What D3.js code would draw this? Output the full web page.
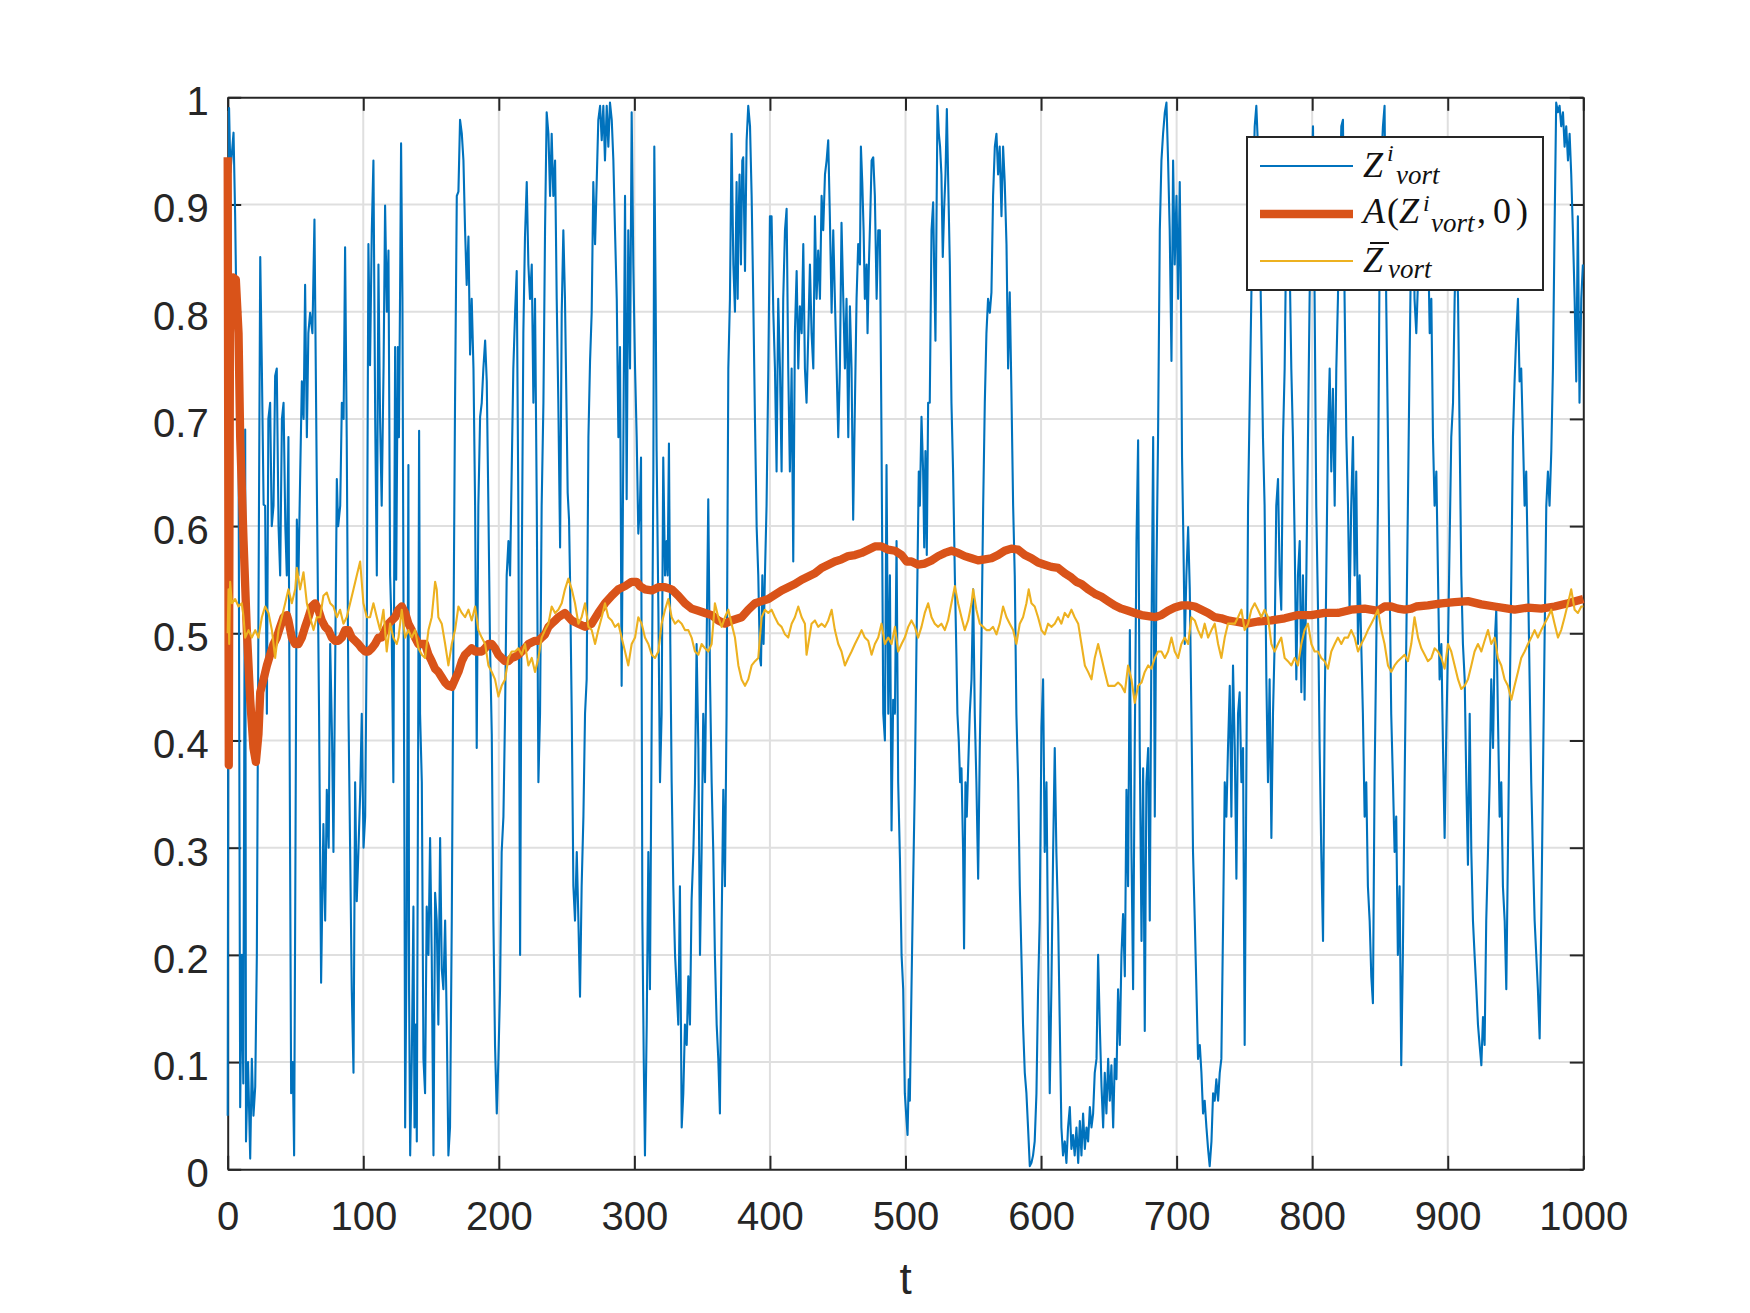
<!DOCTYPE html>
<html>
<head>
<meta charset="utf-8">
<script src="https://cdn.jsdelivr.net/npm/d3@7"></script>
<style>
  body { margin: 0; background: #fff; }
  svg { display: block; background: #fff; }
</style>
</head>
<body>
<svg id="chart" width="1750" height="1313"></svg>
<script>
// ---- data: [t, value] ----
const xTicks = [0, 100, 200, 300, 400, 500, 600, 700, 800, 900, 1000];
const yTicks = [0, 0.1, 0.2, 0.3, 0.4, 0.5, 0.6, 0.7, 0.8, 0.9, 1];
const seriesNames = ["Zvort", "A(Zvort,0)", "Zbar"];

// Z^i_vort (blue, noisy)
const zvort = [
  [0,0.05],[1,0.99],[2,0.93],[4.3,0.967],[5.5,0.889],[7,0.75],[8,0.689],[9.2,0.058],[10.5,0.2],[11.5,0.08],
  [12.9,0.69],[13.5,0.026],[15,0.1],[16.6,0.01],[17.8,0.103],[19,0.05],[20.3,0.077],[21.5,0.2],[23,0.6],[24,0.851],
  [25.2,0.747],[26.5,0.62],[27.6,0.619],[28.9,0.425],[30,0.7],[31.3,0.715],[32.5,0.6],[33.8,0.619],[35,0.74],[36.2,0.747],
  [37.5,0.6],[38.7,0.554],[40,0.7],[41.2,0.715],[42.5,0.6],[43.6,0.554],[44.8,0.683],[46,0.3],[46.8,0.071],[48,0.1],
  [49,0.013],[50,0.3],[51,0.606],[52.2,0.554],[53.5,0.65],[54.7,0.735],[56,0.7],[57.1,0.825],[58.4,0.683],[59.5,0.78],
  [60.8,0.799],[62.5,0.78],[64,0.886],[65.7,0.644],[67.4,0.425],[68.9,0.174],[70.6,0.322],[71.9,0.232],[73.1,0.354],[74.5,0.3],
  [75.6,0.49],[77,0.4],[78,0.296],[79.5,0.5],[80.5,0.644],[81.5,0.6],[83,0.619],[84.2,0.715],[85.5,0.7],[86.6,0.86],
  [87.8,0.683],[89.1,0.425],[90.3,0.3],[91.5,0.168],[92.8,0.09],[94,0.361],[95.2,0.25],[96.4,0.296],[97.7,0.35],[98.9,0.425],
  [100.2,0.3],[101.4,0.329],[102.6,0.5],[103.8,0.863],[105,0.75],[106.3,0.876],[107.5,0.941],[108.8,0.7],[110,0.554],[111.2,0.844],
  [112.4,0.7],[113.6,0.619],[115,0.75],[116.1,0.899],[117.4,0.8],[118.6,0.857],[119.8,0.554],[121,0.5],[122.2,0.361],[123.5,0.767],
  [124.3,0.55],[125.5,0.767],[126.3,0.683],[127.2,0.825],[127.9,0.957],[128.9,0.812],[129.6,0.554],[130.4,0.296],[130.9,0.039],[132.1,0.232],
  [133.3,0.657],[133.8,0.168],[134.6,0.013],[135.8,0.103],[137,0.245],[137.8,0.039],[138.7,0.135],[139.5,0.026],[140.5,0.4],[141.2,0.689],
  [141.9,0.425],[143.2,0.361],[144.4,0.103],[145.6,0.071],[146.8,0.245],[148.1,0.2],[149.3,0.309],[150.5,0.2],[151.8,0.013],[153,0.258],
  [154.2,0.232],[155.4,0.135],[156.7,0.309],[157.9,0.187],[159.1,0.168],[160.4,0.232],[161.6,0.135],[162.8,0.013],[164,0.039],[165.3,0.232],
  [166.5,0.49],[167.7,0.715],[169,0.908],[170.2,0.912],[171.4,0.979],[172.7,0.966],[173.9,0.941],[175.1,0.876],[176.3,0.825],[177.6,0.87],
  [178.8,0.76],[180,0.812],[181.3,0.747],[182.5,0.619],[183.7,0.393],[184.9,0.619],[186.2,0.702],[187.4,0.715],[188.6,0.747],[189.9,0.773],
  [191.1,0.735],[192.3,0.619],[193.5,0.49],[194.8,0.406],[196,0.232],[197.2,0.116],[198.5,0.052],[199.7,0.103],[200.9,0.168],[202.1,0.296],
  [203.4,0.329],[204.6,0.425],[205.8,0.554],[207.1,0.586],[208.3,0.554],[209.5,0.651],[210.7,0.747],[212,0.799],[213.2,0.838],[214.4,0.619],
  [215.7,0.2],[216.9,0.554],[218.1,0.78],[219.3,0.87],[220.6,0.921],[221.8,0.844],[223,0.812],[224.3,0.844],[225.5,0.715],[226.7,0.812],
  [228,0.619],[229.2,0.361],[230.4,0.425],[231.6,0.619],[232.9,0.715],[234.1,0.876],[235.3,0.986],[236.6,0.966],[237.8,0.908],[239,0.966],
  [240.2,0.908],[241.5,0.941],[242.7,0.812],[243.9,0.715],[245.2,0.58],[246.4,0.799],[247.6,0.876],[248.8,0.812],[250.1,0.696],[250.8,0.631],
  [251.8,0.606],[252.5,0.554],[253.8,0.425],[255,0.264],[256.2,0.232],[257.5,0.296],[258.7,0.232],[259.9,0.161],[261.1,0.264],[262.4,0.329],
  [263.6,0.425],[264.8,0.457],[266.1,0.683],[267.3,0.754],[268.5,0.799],[269.7,0.921],[271,0.863],[272.2,0.921],[273.4,0.979],[274.7,0.992],
  [275.9,0.96],[277.1,0.992],[278.3,0.941],[279.6,0.992],[280.8,0.954],[282,0.995],[283.3,0.979],[284.5,0.941],[285.7,0.876],[287,0.812],
  [288.2,0.683],[289.4,0.767],[290.6,0.451],[291.9,0.683],[293.1,0.908],[294.3,0.625],[295.5,0.876],[296.8,0.747],[298,0.986],[299.2,0.844],
  [300.5,0.747],[301.7,0.683],[302.9,0.593],[304.1,0.619],[304.9,0.664],[305.9,0.232],[306.9,0.103],[307.8,0.013],[309.1,0.135],[310.3,0.296],
  [311.5,0.168],[312.8,0.425],[314,0.651],[314.7,0.954],[315.7,0.812],[316.4,0.67],[317.7,0.522],[318.9,0.361],[320.1,0.425],[321.3,0.664],
  [322.6,0.554],[323.8,0.586],[324.5,0.554],[325.5,0.677],[326.5,0.49],[327.5,0.361],[328.7,0.264],[330,0.2],[331.2,0.168],[332.4,0.135],
  [333.6,0.264],[334.9,0.039],[336.1,0.071],[337.3,0.135],[338.6,0.116],[339.8,0.18],[341,0.135],[342.2,0.251],[343.5,0.296],[344.7,0.361],
  [345.9,0.49],[347.2,0.393],[348.4,0.2],[349.6,0.296],[350.8,0.425],[352.1,0.361],[353.3,0.49],[354.5,0.625],[355.8,0.457],[357,0.361],
  [358.2,0.296],[359.4,0.2],[360.7,0.135],[361.9,0.103],[363.1,0.052],[364.4,0.232],[365.6,0.354],[366.8,0.264],[368,0.425],[369.3,0.747],
  [370.5,0.812],[371.7,0.966],[373,0.844],[374.2,0.8],[375.4,0.921],[376.2,0.812],[376.7,0.876],[377.6,0.928],[378.6,0.844],[379.6,0.941],
  [380.3,0.944],[381.6,0.838],[382.8,0.96],[384,0.992],[385.3,0.973],[386.5,0.908],[387.7,0.812],[389,0.696],[390.2,0.599],[391.4,0.554],
  [392.6,0.477],[393.4,0.47],[394.4,0.554],[395.3,0.49],[396.3,0.554],[397.5,0.619],[398.8,0.747],[400,0.889],[401.2,0.889],[402.5,0.799],
  [403.7,0.747],[404.9,0.651],[406.1,0.812],[407.4,0.747],[408.6,0.651],[409.8,0.812],[411.1,0.876],[412.3,0.896],[413.5,0.747],[414.7,0.651],
  [416,0.747],[417.2,0.567],[418.4,0.78],[419.7,0.838],[420.9,0.747],[422.1,0.805],[423.4,0.78],[424.6,0.863],[425.8,0.747],[427,0.715],
  [428.3,0.78],[429.5,0.844],[430.7,0.78],[432,0.747],[433.2,0.889],[434.4,0.812],[435.6,0.857],[436.9,0.812],[438.1,0.908],[439.3,0.876],
  [440.6,0.928],[441.8,0.941],[443,0.96],[444.2,0.889],[445.5,0.799],[446.7,0.876],[447.9,0.812],[449.2,0.747],[450.4,0.683],[451.6,0.747],
  [452.8,0.883],[454.1,0.812],[455.3,0.747],[456.5,0.812],[457.8,0.683],[459,0.805],[460.2,0.747],[461.4,0.606],[462.7,0.715],[463.9,0.812],
  [465.1,0.863],[466.4,0.844],[467.1,0.954],[468.1,0.921],[469.1,0.876],[470,0.812],[471.3,0.844],[472,0.78],[473,0.844],[474,0.889],
  [475,0.941],[476.2,0.944],[477.4,0.908],[478.7,0.812],[479.9,0.876],[481.1,0.876],[482.3,0.683],[483.6,0.425],[484.8,0.4],[486,0.657],
  [487.3,0.425],[488.5,0.554],[489.7,0.316],[490.9,0.438],[492.2,0.425],[493.4,0.586],[494.6,0.361],[495.9,0.29],[497.1,0.2],[498.3,0.168],
  [499.5,0.071],[500.8,0.045],[501.5,0.032],[502.4,0.084],[503.2,0.064],[504.4,0.168],[505.6,0.264],[506.9,0.361],[508.1,0.49],[508.8,0.554],
  [509.8,0.651],[510.6,0.619],[511.8,0.702],[513,0.651],[513.8,0.58],[514.7,0.67],[515.7,0.573],[516.7,0.715],[517.9,0.715],[519.2,0.876],
  [520.4,0.902],[521.1,0.844],[522.1,0.773],[522.8,0.876],[523.6,0.992],[524.6,0.966],[525.5,0.954],[526.5,0.928],[527.5,0.851],[528.5,0.896],
  [529.5,0.928],[530.5,0.989],[531.4,0.928],[532.7,0.844],[533.9,0.715],[535.1,0.651],[536.4,0.554],[537.6,0.477],[538.3,0.425],[539.3,0.4],
  [540.3,0.361],[541.3,0.374],[542.5,0.296],[543.2,0.206],[544.2,0.361],[545.2,0.329],[546.2,0.374],[547.4,0.425],[548.7,0.457],[549.9,0.541],
  [551.1,0.425],[552.3,0.361],[553.6,0.271],[554.8,0.393],[556,0.49],[557.3,0.619],[558.5,0.715],[559.7,0.78],[560.9,0.812],[562.2,0.799],
  [563.4,0.818],[564.6,0.908],[565.9,0.954],[567.1,0.966],[568.3,0.928],[569.5,0.954],[570.8,0.889],[572,0.954],[573.2,0.921],[574.5,0.863],
  [575.7,0.747],[576.9,0.818],[578.1,0.728],[579.4,0.619],[580.6,0.554],[581.8,0.425],[583.1,0.361],[584.3,0.264],[585.5,0.2],[586.7,0.135],
  [588,0.09],[589.2,0.071],[590.4,0.039],[591.7,0.003],[592.9,0.006],[594.1,0.013],[595.3,0.026],[596.6,0.071],[597.8,0.168],[599,0.232],
  [600.3,0.412],[601.5,0.457],[602.7,0.296],[604,0.361],[605.2,0.2],[606.4,0.071],[607.6,0.168],[608.9,0.296],[610.1,0.393],[611.3,0.296],
  [612.6,0.232],[613.8,0.135],[615,0.039],[616.2,0.013],[617.5,0.026],[618.7,0.006],[619.9,0.039],[621.2,0.058],[622.4,0.019],[623.6,0.032],
  [624.8,0.013],[626.1,0.039],[627.4,0.006],[628.6,0.045],[629.8,0.013],[631,0.052],[632.3,0.019],[633.5,0.039],[634.7,0.026],[636,0.058],
  [637.2,0.039],[638.4,0.052],[639.6,0.09],[640.9,0.103],[642.1,0.2],[643.3,0.135],[644.6,0.077],[645.8,0.039],[647,0.09],[648.2,0.052],
  [649.5,0.103],[650.7,0.064],[651.9,0.097],[653.2,0.039],[654.4,0.103],[655.6,0.084],[656.8,0.168],[658.1,0.116],[659.3,0.2],[660.5,0.238],
  [661.8,0.18],[663,0.354],[664.2,0.264],[665.5,0.503],[666.7,0.296],[667.9,0.168],[669.1,0.393],[670.4,0.586],[671.6,0.68],[672.8,0.393],
  [674.1,0.213],[675.3,0.374],[676.5,0.129],[677.7,0.361],[679,0.393],[680.2,0.232],[681.4,0.49],[682.7,0.683],[683.9,0.329],[685.1,0.554],
  [686.3,0.683],[687.6,0.876],[688.8,0.941],[690,0.966],[691.3,0.986],[692.5,0.995],[693.7,0.941],[694.9,0.876],[696.2,0.754],[697.4,0.941],
  [698.6,0.844],[699.9,0.908],[701.1,0.812],[702.3,0.921],[703,0.844],[704,0.664],[705,0.586],[706,0.49],[707.2,0.554],[708.5,0.599],
  [709.7,0.541],[710.9,0.425],[712.1,0.296],[713.4,0.232],[714.6,0.168],[715.8,0.103],[717.1,0.116],[718.3,0.09],[719.5,0.052],[720.7,0.064],
  [722,0.039],[723.2,0.019],[724.4,0.003],[725.7,0.026],[726.9,0.071],[728.1,0.064],[729.3,0.084],[730.6,0.064],[731.8,0.09],[733,0.103],
  [734.3,0.232],[735.5,0.361],[736.7,0.329],[737.9,0.393],[739.2,0.451],[740.4,0.329],[741.6,0.47],[742.9,0.393],[744.1,0.271],[745.3,0.425],
  [746.5,0.445],[747.8,0.361],[749,0.393],[750.2,0.116],[751.4,0.361],[752.7,0.619],[753.9,0.715],[755.1,0.812],[756.3,0.908],[757.6,0.973],
  [758.8,0.992],[760,0.954],[761.3,0.876],[762.5,0.78],[763.7,0.683],[764.9,0.619],[766.2,0.457],[767.4,0.361],[768.6,0.457],[769.9,0.309],
  [771.1,0.425],[772.3,0.49],[773.5,0.619],[774.8,0.644],[776,0.554],[777.2,0.522],[778.5,0.683],[779.7,0.747],[780.9,0.876],[782.1,0.941],
  [783.4,0.844],[784.6,0.747],[785.8,0.683],[787.1,0.586],[788.3,0.457],[789.5,0.554],[790.8,0.586],[792,0.445],[793.2,0.554],[794.4,0.438],
  [795.7,0.554],[796.9,0.683],[798.1,0.812],[799.4,0.908],[800.6,0.973],[801.8,0.812],[803,0.619],[804.3,0.522],[805.5,0.393],[806.7,0.296],
  [808,0.213],[809.2,0.425],[810.4,0.554],[811.6,0.683],[812.9,0.747],[814.1,0.651],[815.3,0.728],[816.6,0.619],[817.8,0.747],[819,0.812],
  [820.2,0.908],[821.5,0.973],[822.7,0.979],[823.9,0.812],[825.2,0.683],[826.4,0.619],[827.6,0.522],[828.8,0.619],[830.1,0.683],[831.3,0.554],
  [832.5,0.651],[833.8,0.49],[835,0.554],[836.2,0.49],[837.4,0.425],[838.7,0.329],[839.9,0.361],[841.1,0.264],[842.4,0.232],[843.6,0.18],
  [844.8,0.155],[846,0.361],[847.3,0.49],[848.5,0.619],[849.7,0.844],[851,0.941],[852.2,0.973],[853.4,0.992],[854.6,0.812],[855.9,0.683],
  [857.1,0.554],[858.3,0.425],[859.6,0.361],[860.8,0.296],[862,0.329],[863.2,0.2],[864.5,0.264],[865.7,0.097],[866.9,0.2],[868.2,0.361],
  [869.4,0.49],[870.6,0.619],[871.8,0.747],[873.1,0.876],[874.3,0.941],[875.5,0.812],[876.8,0.78],[879.3,0.876],[880.5,0.908],[881.7,0.876],
  [883,0.908],[884.2,0.941],[885.4,0.876],[886.7,0.78],[887.9,0.812],[889.1,0.683],[890.3,0.619],[891.6,0.651],[892.8,0.554],[894,0.457],
  [895.3,0.49],[896.5,0.393],[897.7,0.309],[899,0.412],[900.2,0.49],[901.4,0.586],[902.6,0.683],[903.9,0.715],[905.1,0.812],[906.3,0.876],
  [907.6,0.812],[908.8,0.683],[910,0.554],[911.2,0.49],[912.5,0.457],[913.7,0.361],[914.9,0.284],[916.2,0.425],[917.4,0.296],[918.6,0.232],
  [919.8,0.2],[921.1,0.168],[922.3,0.135],[923.5,0.116],[924.8,0.097],[926,0.142],[927.2,0.116],[928.4,0.232],[929.7,0.296],[930.9,0.361],
  [932.1,0.457],[933.4,0.393],[934.6,0.49],[935.8,0.522],[937,0.425],[938.3,0.329],[939.5,0.361],[940.7,0.264],[942,0.232],[943.2,0.168],
  [944.4,0.296],[945.6,0.425],[946.9,0.554],[948.1,0.683],[949.3,0.735],[950.6,0.78],[951.8,0.812],[953,0.735],[954.2,0.747],[955.5,0.683],
  [956.7,0.619],[957.9,0.651],[959.2,0.554],[960.4,0.457],[961.6,0.361],[962.8,0.296],[964.1,0.232],[965.3,0.2],[966.5,0.168],[967.8,0.122],
  [969,0.232],[970.2,0.361],[971.4,0.49],[972.7,0.619],[973.9,0.651],[975.1,0.619],[976.4,0.67],[977.6,0.747],[978.8,0.876],[980,0.995],
  [981.3,0.986],[982.5,0.992],[983.7,0.973],[985,0.986],[986.2,0.954],[987.4,0.973],[988.7,0.941],[989.9,0.966],[991.1,0.928],[992.3,0.876],
  [993.6,0.812],[994.8,0.735],[996,0.889],[997.2,0.715],[998.5,0.812],[999.7,0.844]
];

// A(Z^i_vort, 0) (orange, smooth)
const avgZ = [
  [0,0.944],[0.8,0.377],[1.8,0.831],[4,0.832],[6,0.83],[8,0.78],[9.2,0.683],[11.7,0.586],[14.1,0.503],[16.6,0.438],
  [19,0.393],[20.8,0.38],[22.7,0.406],[24,0.445],[26.4,0.457],[28.9,0.47],[31.3,0.48],[33.8,0.49],[36.2,0.496],[38.7,0.506],
  [41.2,0.515],[43.6,0.517],[44.8,0.512],[47.3,0.496],[49.8,0.49],[52.2,0.49],[54.7,0.496],[57.1,0.506],[59.6,0.515],[62,0.525],
  [64.5,0.528],[66.9,0.522],[69.4,0.512],[71.9,0.506],[74.3,0.503],[76.8,0.496],[79.2,0.493],[81.7,0.493],[84.2,0.496],[86.6,0.503],
  [89.1,0.503],[91.5,0.496],[94,0.493],[96.4,0.49],[98.9,0.486],[101.4,0.483],[103.8,0.483],[106.3,0.486],[108.7,0.49],[111.2,0.496],
  [113.6,0.496],[116.1,0.503],[118.6,0.509],[121,0.512],[123.5,0.515],[126,0.522],[128.4,0.525],[130.9,0.519],[133.3,0.509],[135.8,0.503],
  [138.2,0.496],[140.7,0.49],[143.2,0.49],[145.6,0.49],[148.1,0.48],[150.5,0.474],[153,0.467],[155.4,0.464],[157.9,0.459],[160.4,0.454],
  [162.8,0.451],[165.3,0.45],[167.7,0.457],[170.2,0.464],[172.7,0.474],[175.1,0.48],[177.6,0.483],[180,0.486],[182.5,0.483],[184.9,0.483],
  [187.4,0.483],[189.9,0.486],[192.3,0.49],[194.8,0.49],[197.2,0.486],[199.7,0.48],[202.1,0.477],[204.6,0.474],[207.1,0.474],[209.5,0.477],
  [212,0.478],[214.4,0.48],[216.9,0.483],[219.3,0.486],[221.8,0.49],[226.7,0.493],[229.2,0.493],[231.6,0.496],[234.1,0.499],[236.6,0.506],
  [239,0.509],[241.5,0.512],[243.9,0.515],[246.4,0.517],[248.8,0.519],[253.8,0.512],[258.7,0.509],[263.6,0.506],[268.5,0.509],[273.4,0.519],
  [278.3,0.528],[283.3,0.535],[288.2,0.541],[293.1,0.544],[298,0.548],[301.7,0.548],[304.1,0.544],[307.8,0.541],[312.8,0.54],[317.7,0.543],
  [322.6,0.543],[327.5,0.541],[332.4,0.535],[337.3,0.528],[342.2,0.523],[347.2,0.521],[352.1,0.519],[357,0.517],[361.9,0.512],[366.8,0.509],
  [371.7,0.512],[379.1,0.515],[384,0.522],[389,0.528],[393.9,0.53],[398.8,0.532],[403.7,0.536],[408.6,0.54],[413.5,0.543],[418.4,0.546],
  [423.4,0.55],[428.3,0.553],[433.2,0.556],[438.1,0.561],[443,0.564],[447.9,0.567],[452.8,0.569],[457.8,0.572],[462.7,0.573],[467.6,0.575],
  [472.5,0.578],[477.4,0.581],[482.3,0.581],[487.3,0.578],[492.2,0.577],[497.1,0.573],[500.8,0.567],[504.4,0.567],[509.3,0.564],[514.2,0.565],
  [519.2,0.568],[524.1,0.572],[529,0.575],[533.9,0.577],[538.8,0.575],[543.7,0.572],[548.7,0.57],[553.6,0.568],[558.5,0.569],[563.4,0.57],
  [568.3,0.573],[573.2,0.577],[578.1,0.579],[583.1,0.578],[588,0.573],[592.9,0.57],[597.8,0.566],[602.7,0.564],[607.6,0.562],[612.6,0.561],
  [617.5,0.556],[622.4,0.552],[626.1,0.548],[629.8,0.546],[634.7,0.541],[639.6,0.537],[644.6,0.534],[649.5,0.53],[654.4,0.526],[659.3,0.523],
  [664.2,0.521],[669.1,0.519],[674.1,0.517],[679,0.516],[683.9,0.515],[688.8,0.517],[693.7,0.521],[698.6,0.524],[703.5,0.526],[708.5,0.526],
  [713.4,0.525],[718.3,0.522],[723.2,0.519],[728.1,0.515],[733,0.514],[737.9,0.512],[742.9,0.511],[747.8,0.51],[751.5,0.509],[760,0.511],
  [769.9,0.512],[779.7,0.514],[789.5,0.517],[799.4,0.517],[809.2,0.519],[819,0.519],[828.8,0.522],[838.7,0.523],[848.5,0.521],[853.4,0.525],
  [858.3,0.525],[863.2,0.523],[868.2,0.522],[873.1,0.523],[876.8,0.525],[885.4,0.526],[895.3,0.528],[905.1,0.529],[914.9,0.53],[924.8,0.527],
  [934.6,0.525],[944.4,0.523],[949.3,0.522],[959.2,0.524],[969,0.523],[978.8,0.525],[988.7,0.528],[1000,0.532]
];

// Zbar_vort (yellow, fluctuating around 0.5)
const zbar = [
  [0,0.5],[0.6,0.541],[1.1,0.49],[1.8,0.548],[3.1,0.528],[5.5,0.532],[8,0.525],[10.4,0.528],[11.7,0.515],[12.9,0.496],
  [15.4,0.503],[17.8,0.496],[20.3,0.503],[22.7,0.496],[25.2,0.515],[27.6,0.525],[30.1,0.519],[32.6,0.503],[35,0.477],[37.5,0.503],
  [39.9,0.515],[42.4,0.528],[44.8,0.541],[47.3,0.528],[49.8,0.541],[51,0.561],[53.4,0.541],[55.9,0.557],[58.4,0.528],[60.8,0.515],
  [63.3,0.503],[65.7,0.515],[68.2,0.515],[70.6,0.535],[73.1,0.538],[75.6,0.528],[78,0.525],[80.5,0.515],[82.9,0.522],[85.4,0.509],
  [87.8,0.515],[90.3,0.528],[92.8,0.541],[95.2,0.554],[97.7,0.567],[100.1,0.528],[102.6,0.515],[105,0.515],[107.5,0.528],[110,0.515],
  [112.4,0.503],[114.9,0.522],[117.3,0.483],[119.8,0.509],[122.2,0.496],[124.7,0.49],[126,0.496],[128.4,0.522],[130.9,0.496],[133.3,0.503],
  [135.8,0.496],[138.2,0.503],[140.7,0.486],[143.2,0.48],[145.6,0.477],[148.1,0.503],[150.5,0.515],[153,0.548],[154.2,0.541],[155.4,0.515],
  [157.9,0.509],[160.4,0.49],[162.8,0.47],[165.3,0.49],[167.7,0.503],[170.2,0.525],[172.7,0.519],[175.1,0.515],[177.6,0.522],[180,0.512],
  [182.5,0.525],[184.9,0.503],[187.4,0.496],[189.9,0.49],[192.3,0.47],[194.8,0.464],[197.2,0.457],[199.7,0.441],[202.1,0.451],[204.6,0.457],
  [207.1,0.477],[209.5,0.483],[212,0.483],[214.4,0.486],[216.9,0.48],[219.3,0.49],[221.8,0.47],[224.3,0.477],[226.7,0.464],[229.2,0.477],
  [231.6,0.496],[234.1,0.503],[236.6,0.509],[239,0.525],[241.5,0.519],[243.9,0.522],[246.4,0.528],[248.8,0.541],[251.3,0.551],[253.8,0.541],
  [256.2,0.528],[258.7,0.509],[261.1,0.515],[263.6,0.528],[266.1,0.506],[268.5,0.503],[271,0.49],[273.4,0.503],[275.9,0.515],[278.3,0.528],
  [280.8,0.515],[283.3,0.512],[285.7,0.506],[288.2,0.509],[290.6,0.496],[293.1,0.483],[295.5,0.47],[298,0.49],[300.5,0.496],[302.9,0.515],
  [305.4,0.509],[307.8,0.496],[310.3,0.49],[312.8,0.48],[315.2,0.477],[317.7,0.483],[320.1,0.509],[322.6,0.522],[325,0.532],[327.5,0.515],
  [330,0.509],[332.4,0.512],[334.9,0.509],[337.3,0.503],[339.8,0.503],[342.2,0.496],[344.7,0.483],[347.2,0.48],[349.6,0.49],[352.1,0.486],
  [354.5,0.483],[357,0.49],[359.4,0.528],[361.9,0.515],[364.4,0.506],[366.8,0.515],[369.3,0.522],[371.7,0.509],[374.2,0.496],[376.7,0.47],
  [379.1,0.457],[381.6,0.451],[384,0.457],[386.5,0.47],[389,0.474],[391.4,0.477],[392.6,0.496],[393.9,0.515],[396.3,0.522],[398.8,0.519],
  [401.2,0.522],[403.7,0.515],[406.1,0.509],[408.6,0.506],[411.1,0.499],[413.5,0.496],[416,0.509],[418.4,0.515],[420.9,0.525],[423.4,0.515],
  [425.8,0.509],[427,0.48],[428.3,0.49],[430.7,0.509],[433.2,0.512],[435.6,0.506],[438.1,0.509],[440.6,0.506],[443,0.512],[445.5,0.522],
  [447.9,0.503],[450.4,0.49],[452.8,0.483],[455.3,0.47],[457.8,0.477],[460.2,0.483],[462.7,0.49],[465.1,0.496],[467.6,0.503],[470,0.496],
  [472.5,0.493],[475,0.48],[477.4,0.49],[479.9,0.496],[482.3,0.509],[484.8,0.49],[487.3,0.496],[489.7,0.49],[492.2,0.506],[494.6,0.483],
  [497.1,0.49],[499.5,0.496],[502,0.506],[504.4,0.512],[506.9,0.506],[509.3,0.496],[511.8,0.506],[514.2,0.519],[516.7,0.528],[519.2,0.515],
  [521.6,0.509],[524.1,0.506],[526.5,0.509],[529,0.503],[531.4,0.512],[533.9,0.528],[536.4,0.544],[538.8,0.528],[541.3,0.515],[543.7,0.503],
  [546.2,0.512],[548.7,0.528],[549.9,0.541],[552.3,0.522],[554.8,0.509],[557.3,0.506],[559.7,0.503],[562.2,0.503],[564.6,0.506],[567.1,0.499],
  [569.5,0.509],[572,0.525],[574.5,0.515],[576.9,0.509],[579.4,0.503],[581.8,0.49],[584.3,0.509],[586.7,0.515],[589.2,0.528],[590.9,0.541],
  [592.9,0.528],[595.3,0.525],[597.8,0.515],[600.3,0.503],[602.7,0.499],[605.2,0.509],[607.6,0.506],[610.1,0.509],[612.6,0.515],[615,0.509],
  [617.5,0.519],[619.9,0.515],[622.4,0.522],[624.8,0.515],[627.4,0.509],[629.8,0.49],[632.3,0.47],[634.7,0.464],[637.2,0.457],[639.6,0.477],
  [642.1,0.49],[644.6,0.477],[647,0.464],[649.5,0.451],[651.9,0.451],[654.4,0.451],[656.8,0.454],[659.3,0.451],[661.8,0.445],[664.2,0.47],
  [666.7,0.457],[669.1,0.435],[671.6,0.451],[674.1,0.454],[676.5,0.464],[679,0.47],[681.4,0.467],[683.9,0.477],[686.3,0.483],[688.8,0.483],
  [691.3,0.477],[693.7,0.483],[696.2,0.496],[698.6,0.483],[701.1,0.477],[703.5,0.49],[706,0.496],[708.5,0.49],[710.9,0.515],[713.4,0.512],
  [715.8,0.503],[718.3,0.496],[720.7,0.509],[723.2,0.496],[725.7,0.503],[728.1,0.509],[730.6,0.49],[733,0.477],[735.5,0.496],[737.9,0.509],
  [740.4,0.509],[742.9,0.509],[745.3,0.515],[747.8,0.522],[750.2,0.503],[752.7,0.509],[755.1,0.522],[757.6,0.528],[760,0.522],[762.5,0.515],
  [764.9,0.522],[767.4,0.515],[769.9,0.49],[772.3,0.483],[774.8,0.49],[777.2,0.496],[779.7,0.477],[782.1,0.474],[784.6,0.47],[787.1,0.477],
  [789.5,0.47],[792,0.49],[794.4,0.503],[796.9,0.509],[799.4,0.49],[801.8,0.483],[804.3,0.483],[806.7,0.477],[809.2,0.474],[811.6,0.467],
  [814.1,0.483],[816.6,0.49],[819,0.496],[821.5,0.49],[823.9,0.496],[826.4,0.496],[828.8,0.503],[831.3,0.496],[833.8,0.483],[836.2,0.49],
  [838.7,0.496],[841.1,0.503],[843.6,0.509],[846,0.515],[848.5,0.522],[851,0.503],[853.4,0.49],[855.9,0.47],[858.3,0.464],[860.8,0.47],
  [863.2,0.474],[865.7,0.477],[868.2,0.48],[870.6,0.474],[873.1,0.49],[875.5,0.515],[878.1,0.496],[880.5,0.486],[883,0.48],[885.4,0.474],
  [887.9,0.477],[890.3,0.486],[892.8,0.483],[895.3,0.477],[897.7,0.467],[900.2,0.49],[902.6,0.483],[905.1,0.47],[907.6,0.457],[910,0.448],
  [912.5,0.451],[914.9,0.457],[917.4,0.47],[919.8,0.483],[922.3,0.49],[924.8,0.483],[927.2,0.493],[929.7,0.503],[932.1,0.49],[934.6,0.496],
  [937,0.477],[939.5,0.47],[942,0.457],[944.4,0.451],[946.9,0.438],[949.3,0.451],[951.8,0.464],[954.2,0.477],[956.7,0.483],[959.2,0.49],
  [961.6,0.496],[964.1,0.503],[966.5,0.496],[969,0.503],[971.4,0.509],[973.9,0.515],[976.4,0.522],[978.8,0.509],[981.3,0.496],[983.7,0.503],
  [986.2,0.515],[988.7,0.528],[991.1,0.541],[993.6,0.522],[996,0.519],[998.5,0.525],[1000,0.525]
];

// ---- layout (MATLAB default axes position in a 1750x1313 figure) ----
const dimensions = {
  width: 1750,
  height: 1313,
  margin: { top: 97.3, right: 166.7, bottom: 143.7, left: 227.7 }
};
const plotW = dimensions.width - dimensions.margin.left - dimensions.margin.right;
const plotH = dimensions.height - dimensions.margin.top - dimensions.margin.bottom;

const axisColor = "#262626";
const gridColor = "#dfdfdf";
const colors = { zvort: "#0072BD", avg: "#D95319", zbar: "#EDB120" };
const tickLen = 13.5;

var svg = d3.select("#chart");
var g = svg.append("g")
  .attr("transform", `translate(${dimensions.margin.left},${dimensions.margin.top})`);

var xScale = d3.scaleLinear().domain([0, 1000]).range([0, plotW]);
var yScale = d3.scaleLinear().domain([0, 1]).range([plotH, 0]);

// grid
g.append("g").selectAll("line")
  .data(xTicks.slice(1, -1))
  .join("line")
  .attr("x1", d => xScale(d)).attr("x2", d => xScale(d))
  .attr("y1", 0).attr("y2", plotH)
  .attr("stroke", gridColor).attr("stroke-width", 2);
g.append("g").selectAll("line")
  .data(yTicks.slice(1, -1))
  .join("line")
  .attr("x1", 0).attr("x2", plotW)
  .attr("y1", d => yScale(d)).attr("y2", d => yScale(d))
  .attr("stroke", gridColor).attr("stroke-width", 2);

// axes (ticks point inward, box on all four sides)
function styleAxis(sel) {
  sel.select(".domain").attr("stroke", axisColor).attr("stroke-width", 2);
  sel.selectAll(".tick line").attr("stroke", axisColor).attr("stroke-width", 2);
  sel.selectAll(".tick text")
    .attr("fill", axisColor)
    .style("font-family", "'Liberation Sans', Arial, Helvetica, sans-serif")
    .style("font-size", "40px");
}

g.append("g")
  .attr("transform", `translate(0,${plotH})`)
  .call(d3.axisBottom(xScale).tickValues(xTicks).tickSizeInner(-tickLen).tickSizeOuter(0)
    .tickPadding(32).tickFormat(d3.format("d")))
  .call(styleAxis);

g.append("g")
  .call(d3.axisTop(xScale).tickValues(xTicks).tickSizeInner(-tickLen).tickSizeOuter(0).tickFormat(""))
  .call(styleAxis);

const yAxis = g.append("g")
  .call(d3.axisLeft(yScale).tickValues(yTicks).tickSizeInner(-tickLen).tickSizeOuter(0)
    .tickPadding(19).tickFormat(d => d === 0 || d === 1 ? String(d) : d3.format(".1f")(d)))
  .call(styleAxis);
yAxis.selectAll(".tick text").attr("dy", "0.435em");

g.append("g")
  .attr("transform", `translate(${plotW},0)`)
  .call(d3.axisRight(yScale).tickValues(yTicks).tickSizeInner(-tickLen).tickSizeOuter(0).tickFormat(""))
  .call(styleAxis);

// x label
svg.append("text")
  .attr("x", dimensions.margin.left + plotW / 2)
  .attr("y", 1294)
  .attr("text-anchor", "middle")
  .attr("fill", axisColor)
  .style("font-family", "'Liberation Sans', Arial, Helvetica, sans-serif")
  .style("font-size", "44px")
  .text("t");

// lines
var line = d3.line()
  .x(d => xScale(d[0]))
  .y(d => yScale(d[1]));

g.append("path").datum(zvort)
  .attr("fill", "none").attr("stroke", colors.zvort)
  .attr("stroke-width", 2.1).attr("stroke-linejoin", "round")
  .attr("d", line);

g.append("path").datum(avgZ)
  .attr("fill", "none").attr("stroke", colors.avg)
  .attr("stroke-width", 8.3).attr("stroke-linejoin", "round")
  .attr("d", line);

g.append("path").datum(zbar)
  .attr("fill", "none").attr("stroke", colors.zbar)
  .attr("stroke-width", 2.1).attr("stroke-linejoin", "round")
  .attr("d", line);

// legend
const legend = svg.append("g").attr("transform", "translate(1247,137)");
legend.append("rect")
  .attr("width", 296).attr("height", 153)
  .attr("fill", "#fff").attr("stroke", axisColor).attr("stroke-width", 2);

const rowY = [29, 77, 124];
const sampleStyle = [
  { c: colors.zvort, w: 2.1 },
  { c: colors.avg, w: 8.3 },
  { c: colors.zbar, w: 2.1 }
];
legend.selectAll(".sample")
  .data(seriesNames)
  .join("line")
  .attr("class", "sample")
  .attr("x1", 13).attr("x2", 106)
  .attr("y1", (d, i) => rowY[i]).attr("y2", (d, i) => rowY[i])
  .attr("stroke", (d, i) => sampleStyle[i].c)
  .attr("stroke-width", (d, i) => sampleStyle[i].w);

// each legend label is one <text>; pieces are tspans: [str, x, y, size, italic]
function mathLabel(parts) {
  const t = legend.append("text")
    .attr("fill", "#111")
    .style("font-family", "'Liberation Serif', 'Times New Roman', serif");
  parts.forEach(p => {
    t.append("tspan")
      .attr("x", p[1]).attr("y", p[2])
      .style("font-size", p[3] + "px")
      .style("font-style", p[4] ? "italic" : "normal")
      .text(p[0]);
  });
  return t;
}

mathLabel([["Z", 116, 40, 36, true], ["i", 140, 24, 24, true], ["vort", 149, 46.5, 27, true]]);
mathLabel([["A", 116, 86, 36, true], ["(", 140, 86, 36, false], ["Z", 152, 86, 36, true],
           ["i", 176, 74, 24, true], ["vort", 184, 95, 27, true], [",", 230, 86, 36, false],
           ["0", 246, 86, 36, false], [")", 269, 86, 36, false]]);
mathLabel([["Z", 116, 135, 36, true], ["vort", 141, 141, 27, true]]);
// bar accent over Z
legend.append("line")
  .attr("x1", 123).attr("x2", 142).attr("y1", 106).attr("y2", 106)
  .attr("stroke", "#111").attr("stroke-width", 2);
</script>
</body>
</html>
